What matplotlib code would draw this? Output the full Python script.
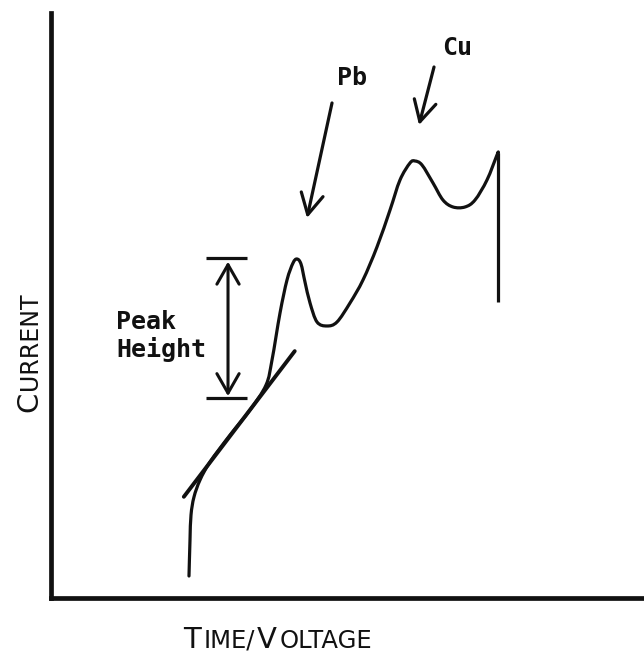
import matplotlib
matplotlib.use("Agg")
import matplotlib.pyplot as plt
from matplotlib.path import Path
from matplotlib.patches import PathPatch

# ---- data (x: time/voltage, y: current; arbitrary units 0-100) ----
curve_x = [23.27, 23.44, 23.61, 24.11, 25.13, 26.81, 30.19, 33.56, 36.26, 37.27,
           38.62, 39.80, 40.81, 41.48, 42.16, 42.83, 43.68, 44.86, 46.54, 48.23,
           50.42, 52.61, 54.97, 57.17, 58.85, 60.54, 61.38, 62.56, 64.42, 66.10,
           67.79, 69.81, 71.50, 73.52, 75.21, 75.38, 75.38]
curve_y = [3.76, 9.91, 14.19, 17.26, 20.17, 23.25, 27.86, 32.14, 36.41, 40.68,
           48.72, 54.36, 57.26, 57.95, 57.09, 54.02, 50.43, 47.18, 46.50, 47.18,
           50.43, 54.36, 60.00, 66.32, 71.45, 74.36, 74.70, 74.02, 70.94, 68.03,
           66.84, 66.84, 68.03, 71.45, 75.73, 76.07, 50.60]

tangent_x = [22.4, 41.1]
tangent_y = [17.3, 42.2]

peak_top = 58.1
peak_base = 34.2

pb_label = "Pb"
cu_label = "Cu"
xlabel_pieces = [("T", 21), ("IME/", 17.5), ("V", 21), ("OLTAGE", 17.5)]
ylabel_pieces = [("C", 21), ("URRENT", 17)]

INK = "#111111"
W, H = 644, 655

fig = plt.figure(figsize=(6.44, 6.55), dpi=100)
ax = fig.add_axes([51 / W, 1 - 598 / H, 1 - 51 / W, (598 - 13) / H])
ax.set_xlim(0, 100)
ax.set_ylim(0, 100)
ax.set_xticks([])
ax.set_yticks([])
for side in ("top", "right"):
    ax.spines[side].set_visible(False)
for side in ("left", "bottom"):
    ax.spines[side].set_linewidth(3.4)
    ax.spines[side].set_color(INK)
    ax.spines[side].set_capstyle("projecting")


def smooth_path(xs, ys):
    pts = list(zip(xs, ys))
    n = len(pts)
    verts = [pts[0]]
    codes = [Path.MOVETO]
    for i in range(n - 1):
        p0 = pts[i - 1] if i > 0 else pts[i]
        p1 = pts[i]
        p2 = pts[i + 1]
        p3 = pts[i + 2] if i + 2 < n else pts[i + 1]
        c1 = (p1[0] + (p2[0] - p0[0]) / 6, p1[1] + (p2[1] - p0[1]) / 6)
        c2 = (p2[0] - (p3[0] - p1[0]) / 6, p2[1] - (p3[1] - p1[1]) / 6)
        verts += [c1, c2, p2]
        codes += [Path.CURVE4] * 3
    return Path(verts, codes)


# main trace: smooth sweep, then the sharp drop at the end
ax.add_patch(PathPatch(smooth_path(curve_x[:-1], curve_y[:-1]), fill=False,
                       edgecolor=INK, lw=2.3, joinstyle="round",
                       capstyle="round"))
ax.plot(curve_x[-2:], curve_y[-2:], color=INK, lw=2.3, solid_capstyle="butt")

# baseline tangent
ax.plot(tangent_x, tangent_y, color=INK, lw=2.8, solid_capstyle="round")

# peak height markers
ax.hlines([peak_top, peak_base], 26.2, 33.1, color=INK, lw=2.3)
ax.annotate("", xy=(29.85, peak_top - 0.6), xytext=(29.85, peak_base + 0.3),
            arrowprops=dict(arrowstyle="<->,head_length=0.7,head_width=0.4",
                            color=INK, lw=2.2, shrinkA=0, shrinkB=0,
                            mutation_scale=20))
ax.text(10.96, 45.98, "Peak", family="DejaVu Sans Mono", fontsize=18,
        fontweight="bold", ha="left", va="baseline", color=INK)
ax.text(10.96, 41.2, "Height", family="DejaVu Sans Mono", fontsize=18,
        fontweight="bold", ha="left", va="baseline", color=INK)

# element arrows
ax.annotate("", xy=(43.17, 64.96), xytext=(47.39, 84.62),
            arrowprops=dict(arrowstyle="->,head_length=0.75,head_width=0.4",
                            color=INK, lw=2.3, shrinkA=0, shrinkB=0,
                            mutation_scale=20))
ax.annotate("", xy=(62.06, 80.85), xytext=(64.59, 90.77),
            arrowprops=dict(arrowstyle="->,head_length=0.75,head_width=0.4",
                            color=INK, lw=2.3, shrinkA=0, shrinkB=0,
                            mutation_scale=20))
ax.text(48.2, 87.69, pb_label, family="DejaVu Sans Mono", fontsize=18,
        fontweight="bold", ha="left", va="baseline", color=INK)
ax.text(65.9, 92.82, cu_label, family="DejaVu Sans Mono", fontsize=18,
        fontweight="bold", ha="left", va="baseline", color=INK)

# small-caps axis labels
renderer = fig.canvas.get_renderer()


def small_caps(x_px, y_px, pieces, rotation=0, gap=2.5):
    pos = 0.0
    for s, size in pieces:
        if rotation == 0:
            px, py = x_px + pos, y_px
        else:
            px, py = x_px, y_px + pos
        t = fig.text(px / W, py / H, s, fontsize=size, family="DejaVu Sans",
                     rotation=rotation, rotation_mode="anchor", ha="left",
                     va="baseline", color=INK)
        bb = t.get_window_extent(renderer)
        pos += (bb.width if rotation == 0 else bb.height) + gap


small_caps(183, H - 648, xlabel_pieces)
small_caps(37, H - 412, ylabel_pieces, rotation=90, gap=1.5)

fig.savefig("out.png", dpi=100, facecolor="white")
